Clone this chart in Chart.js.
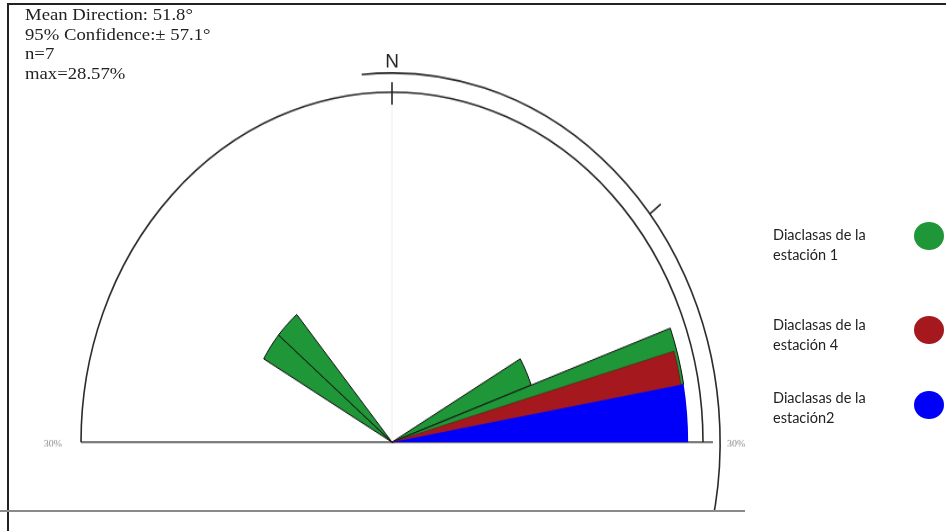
<!DOCTYPE html>
<html>
<head>
<meta charset="utf-8">
<script src="https://cdn.jsdelivr.net/npm/chart.js@4.4.0/dist/chart.umd.min.js"></script>
<style>
html,body{margin:0;padding:0;background:#fff;width:946px;height:531px;overflow:hidden;position:relative;}
#wrap{position:absolute;left:0;top:0;width:946px;height:510px;overflow:hidden;}
#rose{position:absolute;left:0;top:0;transform:scaleY(1.125);transform-origin:0 0;}
.stats{position:absolute;left:25px;top:5px;font:17px "Liberation Serif",serif;line-height:19.5px;color:#222;white-space:nowrap;transform:scaleX(1.1);transform-origin:0 0;}
.leg{position:absolute;left:773px;font:14.5px Lato,sans-serif;line-height:20px;color:#222;width:120px;}
.dot{position:absolute;left:914px;width:30px;height:28px;border-radius:50%;}
.frameTop{position:absolute;left:7px;top:3px;width:939px;height:2px;background:#222;}
.frameLeft{position:absolute;left:7px;top:3px;width:2px;height:528px;background:#222;}
.bottomLine{position:absolute;left:0;top:510px;width:745px;height:2px;background:#8a8a8a;}
</style>
</head>
<body>
<div class="frameTop"></div>
<div class="frameLeft"></div>
<div id="wrap"><canvas id="rose" width="946" height="710"></canvas></div>
<div class="bottomLine"></div>
<div class="stats" id="stats"></div>
<div id="legend"></div>
<script>
// ---- summary statistics ----
const meanDirection = 51.8;   // degrees
const confidence95 = 57.1;    // degrees (±)
const sampleCount = 7;
const maxPercent = 28.57;
const scaleMax = 30;          // outer circle = 30%

// ---- series (petals: azimuth bins in degrees, value in %) ----
const seriesNames = ['Diaclasas de la estación 1', 'Diaclasas de la estación 4', 'Diaclasas de la estación2'];
const legendLines = [['Diaclasas de la', 'estación 1'], ['Diaclasas de la', 'estación 4'], ['Diaclasas de la', 'estación2']];
const seriesColors = ['#1f9637', '#a5191e', '#0000fa'];

const station1From = [60, 70, 300, 310];
const station1To   = [70, 80, 310, 320];
const station1Pct  = [14.29, 28.57, 14.29, 14.29];

const station4From = [74];
const station4To   = [84];
const station4Pct  = [28.3];

const station2From = [80];
const station2To   = [90];
const station2Pct  = [28.57];

// ---- styling constants ----
const stretch = 1.125;
const confRadiusFactor = 1.055;

function buildBins(from, to, pct) {
  const widths = [], values = [];
  let pos = 0;
  const order = from.map((f, i) => i).sort((a, b) => from[a] - from[b]);
  order.forEach(i => {
    if (from[i] > pos) { widths.push(from[i] - pos); values.push(0); }
    widths.push(to[i] - from[i]); values.push(pct[i]);
    pos = to[i];
  });
  if (pos < 360) { widths.push(360 - pos); values.push(0); }
  return { widths, values };
}

const s1 = buildBins(station1From, station1To, station1Pct);
const s4 = buildBins(station4From, station4To, station4Pct);
const s2 = buildBins(station2From, station2To, station2Pct);

// stats text
document.getElementById('stats').innerHTML =
  'Mean Direction: ' + meanDirection.toFixed(1) + '°<br>' +
  '95% Confidence:± ' + confidence95.toFixed(1) + '°<br>' +
  'n=' + sampleCount + '<br>' +
  'max=' + maxPercent.toFixed(2) + '%';

// legend
const legTops = [225, 315, 388];
const dotTops = [222, 316, 391];
const legend = document.getElementById('legend');
legendLines.forEach((lines, i) => {
  const t = document.createElement('div');
  t.className = 'leg'; t.style.top = legTops[i] + 'px';
  t.innerHTML = lines.join('<br>');
  legend.appendChild(t);
  const d = document.createElement('div');
  d.className = 'dot'; d.style.top = dotTops[i] + 'px'; d.style.background = seriesColors[i];
  legend.appendChild(d);
});

const roseFrame = {
  id: 'roseFrame',
  beforeDatasetsDraw(chart) {
    const s = chart.scales.r, ctx = chart.ctx;
    const cx = s.xCenter, cy = s.yCenter;
    const R = s.getDistanceFromCenterForValue(scaleMax);
    const toRad = az => (az - 90) * Math.PI / 180;
    ctx.save();
    // faint north grid line
    ctx.strokeStyle = '#ececec'; ctx.lineWidth = 1;
    ctx.beginPath(); ctx.moveTo(cx, cy); ctx.lineTo(cx, cy - R); ctx.stroke();
    // baseline
    ctx.strokeStyle = '#7a7a7a'; ctx.lineWidth = 2;
    ctx.beginPath(); ctx.moveTo(cx - R, cy); ctx.lineTo(cx + R * 1.032, cy); ctx.stroke();
    // semicircle
    ctx.strokeStyle = '#2a2a2a'; ctx.lineWidth = 1.6;
    ctx.beginPath(); ctx.arc(cx, cy, R, Math.PI, 2 * Math.PI); ctx.stroke();
    // north tick
    ctx.beginPath(); ctx.moveTo(cx, cy - R - 9); ctx.lineTo(cx, cy - R + 11); ctx.stroke();
    // confidence arc
    const Rc = R * confRadiusFactor;
    ctx.beginPath();
    ctx.arc(cx, cy, Rc, toRad(meanDirection - confidence95), toRad(meanDirection + confidence95));
    ctx.stroke();
    // mean direction tick
    const a = toRad(meanDirection);
    ctx.beginPath();
    ctx.moveTo(cx + Rc * Math.cos(a), cy + Rc * Math.sin(a));
    ctx.lineTo(cx + (Rc + 14) * Math.cos(a), cy + (Rc + 14) * Math.sin(a));
    ctx.stroke();
    // labels (counter the vertical stretch)
    const text = (t, x, y, font, color, align) => {
      ctx.save(); ctx.translate(x, y); ctx.scale(1, 1 / stretch);
      ctx.font = font; ctx.fillStyle = color; ctx.textAlign = align; ctx.textBaseline = 'alphabetic';
      ctx.fillText(t, 0, 0); ctx.restore();
    };
    text('N', cx, cy - R - 22, '19px "Liberation Sans", sans-serif', '#222', 'center');
    text(scaleMax + '%', cx - R - 19, cy + 3.5, '10px "Liberation Serif", serif', '#888', 'right');
    text(scaleMax + '%', cx + R * 1.032 + 14, cy + 3.5, '10px "Liberation Serif", serif', '#888', 'left');
    ctx.restore();
  }
};

function ds(label, bins, color, border, bw, order) {
  return {
    label,
    data: bins.values,
    angle: ctx => bins.widths[ctx.dataIndex],
    backgroundColor: color,
    borderColor: border,
    borderWidth: ctx => (ctx.raw > 0 ? bw : 0),
    order
  };
}

new Chart(document.getElementById('rose'), {
  type: 'polarArea',
  data: {
    labels: s1.values.map((v, i) => 'bin' + i),
    datasets: [
      ds(seriesNames[0], s1, seriesColors[0], '#111', 1, 3),
      ds(seriesNames[1], s4, seriesColors[1], '#5a1010', 0.6, 2),
      ds(seriesNames[2], s2, seriesColors[2], seriesColors[2], 0, 1)
    ]
  },
  options: {
    responsive: false,
    maintainAspectRatio: false,
    animation: false,
    layout: { padding: { left: 81, right: 243, top: 82, bottom: 6 } },
    plugins: { legend: { display: false }, tooltip: { enabled: false } },
    scales: {
      r: {
        min: 0, max: scaleMax, startAngle: 0,
        ticks: { display: false },
        grid: { display: false },
        angleLines: { display: false },
        pointLabels: { display: false }
      }
    }
  },
  plugins: [roseFrame]
});
</script>
</body>
</html>
